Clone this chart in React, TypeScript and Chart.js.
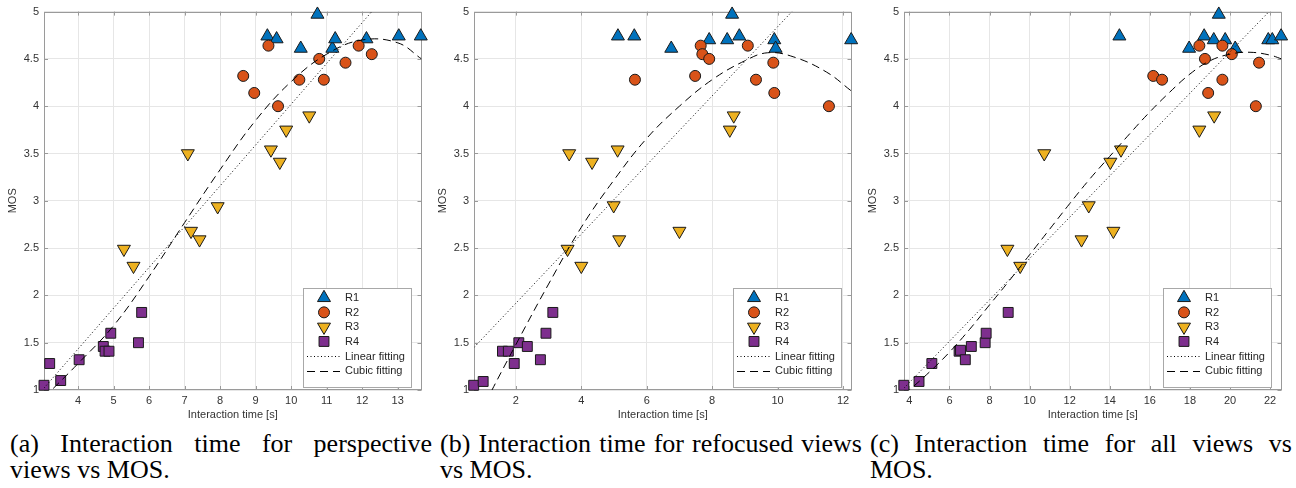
import React, { useEffect, useRef } from 'react';
import { Chart, registerables } from 'chart.js';
Chart.register(...registerables);

// ---------------- Panel (a): perspective views ----------------
const aR1X = [9.33, 9.59, 10.27, 10.74, 11.16, 11.24, 12.12, 13.03, 13.65];
const aR1Y = [4.74, 4.71, 4.61, 4.97, 4.61, 4.71, 4.71, 4.74, 4.74];
const aR2X = [9.36, 8.65, 8.96, 9.63, 10.23, 10.79, 10.92, 11.53, 11.9, 12.27];
const aR2Y = [4.64, 4.32, 4.14, 4.0, 4.28, 4.5, 4.28, 4.46, 4.64, 4.55];
const aR3X = [7.09, 9.43, 9.68, 9.86, 10.51, 5.29, 5.56, 7.18, 7.42, 7.93];
const aR3Y = [3.5, 3.54, 3.41, 3.75, 3.9, 2.49, 2.31, 2.68, 2.59, 2.94];
const aR4X = [3.04, 3.2, 3.51, 4.03, 4.71, 4.76, 4.87, 4.92, 5.7, 5.79];
const aR4Y = [1.05, 1.28, 1.1, 1.32, 1.46, 1.41, 1.41, 1.6, 1.5, 1.82];
const aLinX = [3.04, 12.27];
const aLinY = [1.02, 5.0];
const aCubX = [3.04, 4, 5, 6, 7, 8, 9, 10, 11, 12, 13, 13.67];
const aCubY = [0.92, 1.28, 1.68, 2.2, 2.77, 3.33, 3.85, 4.26, 4.55, 4.7, 4.67, 4.5];
const aXRange = [3.04, 13.67];
const aXTicks = [4, 5, 6, 7, 8, 9, 10, 11, 12, 13];

// ---------------- Panel (b): refocused views ----------------
const bR1X = [5.12, 5.62, 6.75, 7.91, 8.46, 8.61, 8.83, 9.9, 9.94, 12.25];
const bR1Y = [4.74, 4.74, 4.61, 4.7, 4.7, 4.97, 4.74, 4.7, 4.61, 4.7];
const bR2X = [7.65, 7.7, 7.91, 7.48, 5.64, 9.09, 9.34, 9.87, 9.9, 11.57];
const bR2Y = [4.64, 4.55, 4.5, 4.32, 4.28, 4.64, 4.28, 4.46, 4.14, 4.0];
const bR3X = [3.63, 4.33, 5.11, 8.54, 8.66, 3.58, 4.0, 4.99, 5.16, 7.0];
const bR3Y = [3.5, 3.41, 3.54, 3.75, 3.9, 2.49, 2.31, 2.95, 2.59, 2.68];
const bR4X = [0.71, 1.0, 1.59, 1.77, 1.95, 2.09, 2.35, 2.75, 2.92, 3.13];
const bR4Y = [1.05, 1.09, 1.41, 1.41, 1.28, 1.5, 1.46, 1.32, 1.6, 1.82];
const bLinX = [0.72, 10.44];
const bLinY = [1.45, 5.0];
const bCubX = [0.72, 1.27, 2, 3, 4, 5, 6, 7, 8, 9, 9.7, 10.5, 11.5, 12.26];
const bCubY = [0.62, 1.0, 1.48, 2.12, 2.72, 3.22, 3.66, 4.0, 4.28, 4.48, 4.565, 4.52, 4.36, 4.16];
const bXRange = [0.72, 12.26];
const bXTicks = [2, 4, 6, 8, 10, 12];

// ---------------- Panel (c): all views ----------------
const cR1X = [14.48, 17.96, 18.71, 19.19, 19.44, 19.76, 20.26, 21.91, 22.11, 22.55];
const cR1Y = [4.74, 4.61, 4.74, 4.7, 4.97, 4.7, 4.61, 4.7, 4.7, 4.74];
const cR2X = [16.17, 16.61, 18.47, 18.75, 18.91, 19.62, 19.62, 20.09, 21.45, 21.29];
const cR2Y = [4.32, 4.28, 4.64, 4.5, 4.14, 4.64, 4.28, 4.55, 4.46, 4.0];
const cR3X = [10.73, 14.03, 14.56, 18.47, 19.21, 8.89, 9.53, 12.95, 12.59, 14.18];
const cR3Y = [3.5, 3.41, 3.54, 3.75, 3.9, 2.49, 2.31, 2.95, 2.59, 2.68];
const cR4X = [3.72, 4.48, 5.12, 6.48, 6.55, 6.79, 7.09, 7.78, 7.83, 8.93];
const cR4Y = [1.05, 1.09, 1.28, 1.41, 1.42, 1.32, 1.46, 1.5, 1.6, 1.82];
const cLinX = [3.73, 21.95];
const cLinY = [1.02, 5.0];
const cCubX = [3.73, 5, 6, 7, 8, 9, 10, 11, 12, 13, 14, 15, 16, 17, 18, 19, 20, 21, 22, 22.57];
const cCubY = [0.95, 1.19, 1.4, 1.64, 1.9, 2.16, 2.43, 2.7, 2.97, 3.23, 3.47, 3.71, 3.94, 4.15, 4.34, 4.48, 4.55, 4.57, 4.54, 4.5];
const cXRange = [3.73, 22.57];
const cXTicks = [4, 6, 8, 10, 12, 14, 16, 18, 20, 22];

// ---------------- shared ----------------
const yRange = [1, 5];
const yTicks = [1, 1.5, 2, 2.5, 3, 3.5, 4, 4.5, 5];
const seriesLabels = ['R1', 'R2', 'R3', 'R4', 'Linear fitting', 'Cubic fitting'];
const xTitle = 'Interaction time [s]';
const yTitle = 'MOS';
const captionLine1 = [
  '(a) Interaction time for perspective',
  '(b) Interaction time for refocused views',
  '(c) Interaction time for all views vs',
];
const captionLine2 = ['views vs MOS.', 'vs MOS.', 'MOS.'];

const COLORS = ['#0072BD', '#D95319', '#EDB120', '#7E2F8E'];
const EDGE = '#1a1a1a';
const GRID = '#e6e6e6';
const FRAME = '#9a9a9a';
const TEXT = '#333333';
const FONT_FAMILY = '"Liberation Sans", Arial, Helvetica, sans-serif';

const MARKERS = [
  { style: 'triangle', rotation: 0, radius: 7.5 },
  { style: 'circle', rotation: 0, radius: 5.5 },
  { style: 'triangle', rotation: 180, radius: 7.5 },
  { style: 'rect', rotation: 0, radius: 7 },
];

const zip = (xs: number[], ys: number[]) => xs.map((x, i) => ({ x, y: ys[i] }));

type PanelSpec = {
  series: { x: number[]; y: number[] }[];
  lin: { x: number[]; y: number[] };
  cub: { x: number[]; y: number[] };
  xRange: number[];
  xTicks: number[];
};

const panels: PanelSpec[] = [
  {
    series: [
      { x: aR1X, y: aR1Y },
      { x: aR2X, y: aR2Y },
      { x: aR3X, y: aR3Y },
      { x: aR4X, y: aR4Y },
    ],
    lin: { x: aLinX, y: aLinY },
    cub: { x: aCubX, y: aCubY },
    xRange: aXRange,
    xTicks: aXTicks,
  },
  {
    series: [
      { x: bR1X, y: bR1Y },
      { x: bR2X, y: bR2Y },
      { x: bR3X, y: bR3Y },
      { x: bR4X, y: bR4Y },
    ],
    lin: { x: bLinX, y: bLinY },
    cub: { x: bCubX, y: bCubY },
    xRange: bXRange,
    xTicks: bXTicks,
  },
  {
    series: [
      { x: cR1X, y: cR1Y },
      { x: cR2X, y: cR2Y },
      { x: cR3X, y: cR3Y },
      { x: cR4X, y: cR4Y },
    ],
    lin: { x: cLinX, y: cLinY },
    cub: { x: cCubX, y: cCubY },
    xRange: cXRange,
    xTicks: cXTicks,
  },
];

const LIN_DASH = [1, 2.5];
const CUB_DASH = [8, 5];

function drawMarker(ctx: CanvasRenderingContext2D, style: string, rotationDeg: number, radius: number, x: number, y: number, fill: string) {
  ctx.save();
  ctx.beginPath();
  if (style === 'circle') {
    ctx.arc(x, y, radius, 0, Math.PI * 2);
  } else if (style === 'triangle') {
    let rad = (rotationDeg * Math.PI) / 180;
    ctx.moveTo(x + Math.sin(rad) * radius, y - Math.cos(rad) * radius);
    rad += (2 * Math.PI) / 3;
    ctx.lineTo(x + Math.sin(rad) * radius, y - Math.cos(rad) * radius);
    rad += (2 * Math.PI) / 3;
    ctx.lineTo(x + Math.sin(rad) * radius, y - Math.cos(rad) * radius);
    ctx.closePath();
  } else {
    const s = Math.SQRT1_2 * radius;
    ctx.rect(x - s, y - s, 2 * s, 2 * s);
  }
  ctx.fillStyle = fill;
  ctx.fill();
  ctx.lineWidth = 1;
  ctx.strokeStyle = EDGE;
  ctx.stroke();
  ctx.restore();
}

const framePlugin = {
  id: 'matlabFrame',
  beforeDatasetsDraw(chart: any) {
    const { ctx, chartArea: ca, scales } = chart;
    ctx.save();
    ctx.strokeStyle = FRAME;
    ctx.lineWidth = 1;
    ctx.beginPath();
    const TL = 4;
    scales.x.ticks.forEach((t: any) => {
      const px = Math.round(scales.x.getPixelForValue(t.value)) + 0.5;
      ctx.moveTo(px, ca.bottom);
      ctx.lineTo(px, ca.bottom - TL);
      ctx.moveTo(px, ca.top);
      ctx.lineTo(px, ca.top + TL);
    });
    scales.y.ticks.forEach((t: any) => {
      const py = Math.round(scales.y.getPixelForValue(t.value)) + 0.5;
      ctx.moveTo(ca.left, py);
      ctx.lineTo(ca.left + TL, py);
      ctx.moveTo(ca.right, py);
      ctx.lineTo(ca.right - TL, py);
    });
    ctx.stroke();
    ctx.strokeRect(Math.round(ca.left) + 0.5, Math.round(ca.top) + 0.5, Math.round(ca.right - ca.left) - 1, Math.round(ca.bottom - ca.top) - 1);
    ctx.restore();
  },
  afterDraw(chart: any) {
    const { ctx, chartArea: ca } = chart;
    const w = 108;
    const h = 99;
    const bx = Math.round(ca.right - 11 - w);
    const by = Math.round(ca.bottom - 3 - h);
    ctx.save();
    ctx.fillStyle = '#ffffff';
    ctx.fillRect(bx, by, w, h);
    ctx.strokeStyle = '#a8a8a8';
    ctx.lineWidth = 1;
    ctx.strokeRect(bx + 0.5, by + 0.5, w, h);
    ctx.font = `11px ${FONT_FAMILY}`;
    ctx.textBaseline = 'middle';
    ctx.textAlign = 'left';
    seriesLabels.forEach((label, i) => {
      const cy = by + 9.8 + i * 14.55;
      if (i < 4) {
        const m = MARKERS[i];
        drawMarker(ctx, m.style, m.rotation, m.radius, bx + 21, cy, COLORS[i]);
      } else {
        ctx.save();
        ctx.strokeStyle = '#000';
        ctx.lineWidth = 1;
        ctx.setLineDash(i === 4 ? LIN_DASH : CUB_DASH);
        ctx.beginPath();
        ctx.moveTo(bx + 4, Math.round(cy) + 0.5);
        ctx.lineTo(bx + 37, Math.round(cy) + 0.5);
        ctx.stroke();
        ctx.restore();
      }
      ctx.fillStyle = '#262626';
      ctx.fillText(label, bx + 42, cy + 0.5);
    });
    ctx.restore();
  },
};

function buildConfig(p: PanelSpec): any {
  const pointSets = p.series.map((s, i) => ({
    label: seriesLabels[i],
    data: zip(s.x, s.y),
    showLine: false,
    pointStyle: MARKERS[i].style,
    pointRotation: MARKERS[i].rotation,
    pointRadius: MARKERS[i].radius,
    pointHoverRadius: MARKERS[i].radius,
    pointBackgroundColor: COLORS[i],
    pointBorderColor: EDGE,
    pointBorderWidth: 1,
    backgroundColor: COLORS[i],
    borderColor: EDGE,
    clip: false,
    order: 5 - i + 1,
  }));
  const lineSet = (label: string, xs: number[], ys: number[], dash: number[], tension: number, order: number) => ({
    label,
    data: zip(xs, ys),
    showLine: true,
    pointRadius: 0,
    pointHoverRadius: 0,
    borderColor: '#000000',
    backgroundColor: '#000000',
    borderWidth: 1,
    borderDash: dash,
    tension,
    fill: false,
    order,
  });
  const tickFont = { family: FONT_FAMILY, size: 11 };
  return {
    type: 'scatter',
    data: {
      datasets: [
        ...pointSets,
        lineSet(seriesLabels[4], p.lin.x, p.lin.y, LIN_DASH, 0, 1),
        lineSet(seriesLabels[5], p.cub.x, p.cub.y, CUB_DASH, 0.4, 0),
      ],
    },
    options: {
      animation: false,
      responsive: false,
      maintainAspectRatio: false,
      events: [],
      layout: { padding: { left: 0, right: 4, top: 7, bottom: 0 } },
      plugins: { legend: { display: false }, tooltip: { enabled: false }, title: { display: false } },
      scales: {
        x: {
          type: 'linear',
          min: p.xRange[0],
          max: p.xRange[1],
          afterBuildTicks: (scale: any) => {
            scale.ticks = p.xTicks.map((v) => ({ value: v }));
          },
          afterFit: (scale: any) => {
            scale.height = 35;
          },
          ticks: {
            font: tickFont,
            color: TEXT,
            padding: 4,
            maxRotation: 0,
            autoSkip: false,
            callback: (v: any) => String(v),
          },
          grid: { color: GRID, drawTicks: false, lineWidth: 1 },
          border: { display: false },
          title: {
            display: true,
            text: xTitle,
            color: TEXT,
            font: tickFont,
            padding: { top: 2, bottom: 3 },
          },
        },
        y: {
          type: 'linear',
          min: yRange[0],
          max: yRange[1],
          afterBuildTicks: (scale: any) => {
            scale.ticks = yTicks.map((v) => ({ value: v }));
          },
          afterFit: (scale: any) => {
            scale.width = 44;
          },
          ticks: {
            font: tickFont,
            color: TEXT,
            padding: 5,
            autoSkip: false,
            callback: (v: any) => String(v),
          },
          grid: { color: GRID, drawTicks: false, lineWidth: 1 },
          border: { display: false },
          title: {
            display: true,
            text: yTitle,
            color: TEXT,
            font: tickFont,
            padding: { top: 6.5, bottom: 0 },
          },
        },
      },
    },
    plugins: [framePlugin],
  };
}

function Panel({ spec, left }: { spec: PanelSpec; left: number }) {
  const ref = useRef<HTMLCanvasElement | null>(null);
  useEffect(() => {
    if (!ref.current) return;
    const chart = new Chart(ref.current, buildConfig(spec));
    return () => chart.destroy();
  }, [spec]);
  return (
    <canvas
      ref={ref}
      width={430}
      height={425}
      style={{ position: 'absolute', left, top: 0, width: 430, height: 425, display: 'block' }}
    />
  );
}

export default function App() {
  return (
    <div style={{ position: 'absolute', left: 0, top: 0, width: 1296, height: 488, background: '#fff', overflow: 'hidden' }}>
      {panels.map((p, i) => (
        <Panel key={i} spec={p} left={430 * i} />
      ))}
      {captionLine1.map((line, i) => (
        <div
          key={'cap' + i}
          style={{
            position: 'absolute',
            left: 10 + 430 * i,
            top: 430.6,
            width: 422,
            fontFamily: '"Liberation Serif", "Times New Roman", serif',
            fontSize: 26,
            lineHeight: '26.6px',
            color: '#000',
          }}
        >
          <div style={{ textAlign: 'justify', textAlignLast: 'justify', whiteSpace: 'nowrap' } as any}>{line}</div>
          <div style={{ textAlign: 'left', whiteSpace: 'nowrap' }}>{captionLine2[i]}</div>
        </div>
      ))}
    </div>
  );
}
